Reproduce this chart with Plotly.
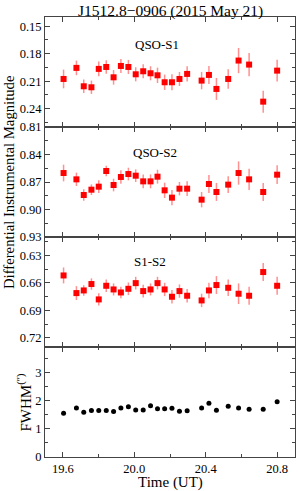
import plotly.graph_objects as go
from plotly.subplots import make_subplots

time_ut = [19.604, 19.676, 19.717, 19.760, 19.801, 19.843, 19.884, 19.925, 19.967, 20.008,
           20.050, 20.091, 20.130, 20.170, 20.211, 20.253, 20.296, 20.377, 20.418, 20.460,
           20.526, 20.584, 20.643, 20.722, 20.800]

qso_s1 = [0.2076, 0.1955, 0.2156, 0.2167, 0.1966, 0.1945, 0.2058, 0.1934, 0.1945, 0.2025,
          0.1992, 0.2014, 0.2036, 0.2112, 0.2112, 0.2076, 0.2021, 0.2094, 0.2032, 0.2185,
          0.2076, 0.1875, 0.1919, 0.2324, 0.1985]
qso_s1_err = [0.0102, 0.0080, 0.0073, 0.0073, 0.0080, 0.0073, 0.0080, 0.0077, 0.0077, 0.0077,
              0.0077, 0.0077, 0.0084, 0.0084, 0.0087, 0.0077, 0.0084, 0.0095, 0.0098, 0.0120,
              0.0106, 0.0138, 0.0127, 0.0120, 0.0120]

qso_s2 = [0.8602, 0.8671, 0.8842, 0.8784, 0.8751, 0.8580, 0.8733, 0.8645, 0.8613, 0.8631,
          0.8693, 0.8693, 0.8642, 0.8791, 0.8871, 0.8773, 0.8773, 0.8893, 0.8722, 0.8809,
          0.8729, 0.8602, 0.8671, 0.8809, 0.8620]
qso_s2_err = [0.0091, 0.0073, 0.0062, 0.0058, 0.0069, 0.0058, 0.0069, 0.0073, 0.0069, 0.0069,
              0.0076, 0.0076, 0.0076, 0.0084, 0.0084, 0.0073, 0.0080, 0.0084, 0.0098, 0.0098,
              0.0091, 0.0127, 0.0116, 0.0098, 0.0102]

s1_s2 = [0.6519, 0.6712, 0.6683, 0.6613, 0.6781, 0.6632, 0.6672, 0.6705, 0.6665, 0.6603,
         0.6690, 0.6672, 0.6603, 0.6672, 0.6752, 0.6690, 0.6741, 0.6792, 0.6683, 0.6624,
         0.6654, 0.6719, 0.6741, 0.6482, 0.6632]
s1_s2_err = [0.0087, 0.0076, 0.0058, 0.0062, 0.0066, 0.0069, 0.0066, 0.0062, 0.0069, 0.0069,
             0.0069, 0.0066, 0.0069, 0.0073, 0.0073, 0.0073, 0.0073, 0.0073, 0.0084, 0.0098,
             0.0091, 0.0113, 0.0098, 0.0098, 0.0098]

fwhm = [1.55, 1.74, 1.59, 1.65, 1.65, 1.65, 1.61, 1.74, 1.78, 1.67,
        1.67, 1.82, 1.71, 1.71, 1.73, 1.62, 1.64, 1.74, 1.91, 1.66,
        1.80, 1.74, 1.69, 1.69, 1.96]

FONT = "Liberation Serif"
AX = "#444444"
TICKSIZE = 12.5

fig = make_subplots(rows=4, cols=1, shared_xaxes=True, vertical_spacing=0)

for row, (vals, errs) in enumerate([(qso_s1, qso_s1_err), (qso_s2, qso_s2_err), (s1_s2, s1_s2_err)], start=1):
    fig.add_trace(go.Scatter(
        x=time_ut, y=vals, mode="markers",
        marker=dict(symbol="square", size=6, color="#ff0000"),
        error_y=dict(type="data", array=errs, visible=True, color="rgba(255,70,70,0.6)",
                     thickness=1.5, width=0),
        showlegend=False), row=row, col=1)

fig.add_trace(go.Scatter(
    x=time_ut, y=fwhm, mode="markers",
    marker=dict(symbol="circle", size=5, color="#000000"),
    showlegend=False), row=4, col=1)

xcommon = dict(range=[19.5, 20.9], tick0=19.6, dtick=0.4, ticks="inside", ticklen=5,
               tickcolor=AX, showline=True, linecolor=AX, linewidth=1, mirror="ticks",
               showgrid=False, zeroline=False,
               minor=dict(ticks="inside", tick0=19.6, dtick=0.2, ticklen=3, tickcolor=AX, showgrid=False),
               tickfont=dict(family=FONT, size=TICKSIZE, color="black"), tickformat=".1f")
for r in range(1, 5):
    fig.update_xaxes(**xcommon, row=r, col=1)

ycommon = dict(ticks="inside", ticklen=5, tickcolor=AX, showline=True, linecolor=AX, linewidth=1,
               mirror="ticks", showgrid=False, zeroline=False,
               tickfont=dict(family=FONT, size=TICKSIZE, color="black"))
fig.update_yaxes(**ycommon, range=[0.2601, 0.1399], tick0=0.15, dtick=0.03, tickformat=".2f",
                 minor=dict(ticks="inside", tick0=0.15, dtick=0.015, ticklen=3, tickcolor=AX),
                 row=1, col=1)
fig.update_yaxes(**ycommon, range=[0.9301, 0.8099], tick0=0.81, dtick=0.03, tickformat=".2f",
                 minor=dict(ticks="inside", tick0=0.81, dtick=0.015, ticklen=3, tickcolor=AX),
                 row=2, col=1)
fig.update_yaxes(**ycommon, range=[0.7301, 0.6099], tick0=0.63, dtick=0.03, tickformat=".2f",
                 minor=dict(ticks="inside", tick0=0.63, dtick=0.015, ticklen=3, tickcolor=AX),
                 row=3, col=1)
fig.update_yaxes(**ycommon, range=[0, 3.9], tick0=0, dtick=1, tickformat="d",
                 minor=dict(ticks="inside", tick0=0, dtick=0.5, ticklen=3, tickcolor=AX),
                 row=4, col=1)

labels = [("QSO-S1", "x domain", "y domain", 0.448, 0.836),
          ("QSO-S2", "x2 domain", "y2 domain", 0.44, 0.857),
          ("S1-S2", "x3 domain", "y3 domain", 0.42, 0.864)]
for text, xr, yr, xx, yy in labels:
    fig.add_annotation(text=text, xref=xr, yref=yr, x=xx, y=yy, showarrow=False,
                       font=dict(family=FONT, size=13, color="black"))

fig.add_annotation(text="Differential Instrumental Magnitude", xref="paper", yref="paper",
                   x=-0.144, y=0.625, textangle=-90, showarrow=False, xanchor="center", yanchor="middle",
                   font=dict(family=FONT, size=14.7, color="black"))
fig.add_annotation(text="FWHM<sup>(″)</sup>", xref="paper", yref="paper",
                   x=-0.082, y=0.125, textangle=-90, showarrow=False, xanchor="center", yanchor="middle",
                   font=dict(family=FONT, size=15, color="black"))
fig.add_annotation(text="Time (UT)", xref="paper", yref="paper",
                   x=0.5, y=-0.058, showarrow=False, xanchor="center", yanchor="middle",
                   font=dict(family=FONT, size=15, color="black"))
fig.add_annotation(text="J1512.8−0906 (2015 May 21)", xref="paper", yref="paper",
                   x=0.5, y=1.0136, showarrow=False, xanchor="center", yanchor="middle",
                   font=dict(family=FONT, size=15.5, color="black"))

fig.update_layout(
    width=300, height=491,
    margin=dict(l=45, r=5, t=17, b=34),
    paper_bgcolor="white", plot_bgcolor="white",
)

fig.write_html("out.html", config={"displayModeBar": False},
               post_script="document.body.style.margin='0';document.body.style.overflow='hidden';")
